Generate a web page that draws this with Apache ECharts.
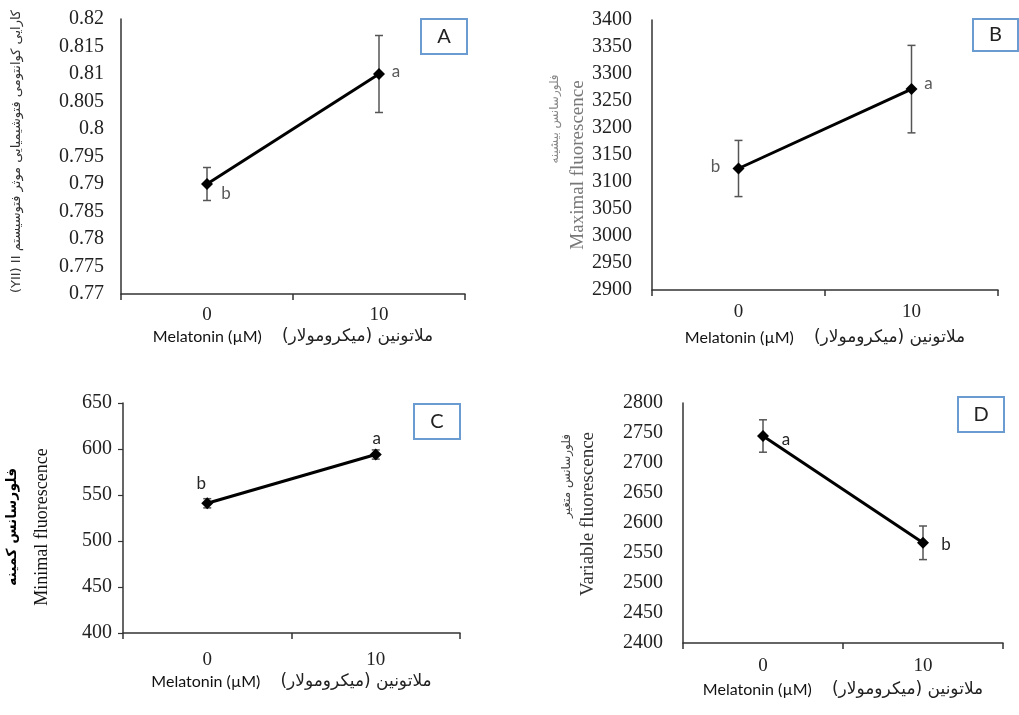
<!DOCTYPE html>
<html>
<head>
<meta charset="utf-8">
<script src="https://cdn.jsdelivr.net/npm/echarts@6/dist/echarts.min.js"></script>
<style>html,body{margin:0;padding:0;background:#fff}#c{width:1019px;height:715px}</style>
</head>
<body>
<div id="c"></div>
<script>
// ---- data ----
const categories = ['0', '10'];
const meanA = [0.790, 0.810];
const errA = [0.003, 0.007];
const meanB = [3125, 3272];
const errB = [52, 81];
const meanC = [541, 594];
const errC = [5, 5];
const meanD = [2745, 2567];
const errD = [27, 28];
const lettersA = ['b', 'a'];
const lettersB = ['b', 'a'];
const lettersC = ['b', 'a'];
const lettersD = ['a', 'b'];
const yRangeA = [0.77, 0.82, 0.005];
const yRangeB = [2900, 3400, 50];
const yRangeC = [400, 650, 50];
const yRangeD = [2400, 2800, 50];
const panelLetters = ['A', 'B', 'C', 'D'];
const xTitleEn = 'Melatonin (µM)';
const xTitleFa = 'ملاتونین (میکرومولار)';
const yTitleFaA = 'کارایی کوانتومی فتوشیمیایی موثر فتوسیستم';
const yTitleLatA = '(YII) II';
const yTitleEnB = 'Maximal fluorescence', yTitleFaB = 'فلورسانس بیشینه';
const yTitleEnC = 'Minimal fluorescence', yTitleFaC = 'فلورسانس کمینه';
const yTitleEnD = 'Variable fluorescence', yTitleFaD = 'فلورسانس متغیر';

const RLI = '\u2067', LRI = '\u2066', PDI = '\u2069';
const serif = '"Liberation Serif", "Times New Roman", serif';
const sans = 'Lato, "Open Sans", sans-serif';
const fa = '"DejaVu Sans", sans-serif';

const grids = [
  {left: 121, top: 19, width: 344, height: 275},
  {left: 652, top: 20, width: 346, height: 270},
  {left: 123, top: 403, width: 337, height: 230},
  {left: 683, top: 403, width: 320, height: 240}
];
const labelMargins = [12, 13, 18, 14];
const xNameGaps = [34, 39, 40, 38];
const yLabelMargins = [17, 20, 11, 20];

const panels = [
  {mean: meanA, err: errA, letters: lettersA, range: yRangeA, letterColor: '#595959',
   offsets: [[19, 10], [17, -2]]},
  {mean: meanB, err: errB, letters: lettersB, range: yRangeB, letterColor: '#595959',
   offsets: [[-23, -2], [17, -6]]},
  {mean: meanC, err: errC, letters: lettersC, range: yRangeC, letterColor: '#262626',
   offsets: [[-6, -20], [1, -16]]},
  {mean: meanD, err: errD, letters: lettersD, range: yRangeD, letterColor: '#262626',
   offsets: [[23, 4], [23, 2]]}
];

const yNames = [
  {name: RLI + yTitleFaA + ' ' + LRI + yTitleLatA + PDI + PDI, gap: 98,
   style: {fontFamily: fa, fontSize: 13, color: '#333', padding: [0, 0, 0, 10]}},
  {name: yTitleEnB, gap: 64, style: {fontFamily: serif, fontSize: 19, color: '#777', padding: [0, 20, 0, 0]}},
  {name: yTitleEnC, gap: 72, style: {fontFamily: serif, fontSize: 18, color: '#111', padding: [0, 18, 0, 0]}},
  {name: yTitleEnD, gap: 85, style: {fontFamily: serif, fontSize: 19, color: '#333', padding: [0, 0, 0, 18]}}
];

const axisLine = {show: true, lineStyle: {color: '#333', width: 1.5}};

const xAxes = grids.map((g, i) => ({
  type: 'category', gridIndex: i, data: categories, boundaryGap: true,
  axisLine: axisLine,
  axisTick: {show: true, length: 6, lineStyle: {color: '#333', width: 1.5}},
  axisLabel: {fontFamily: serif, fontSize: 19, color: '#222', margin: labelMargins[i]},
  name: '{en|' + xTitleEn + '}{sp|}{fa|' + RLI + xTitleFa + PDI + '}',
  nameLocation: 'middle', nameGap: xNameGaps[i],
  nameTextStyle: {
    rich: {
      en: {fontFamily: sans, fontSize: 16, color: '#111'},
      sp: {width: 20},
      fa: {fontFamily: fa, fontSize: 17, color: '#222'}
    }
  }
}));

const yAxes = panels.map((p, i) => ({
  type: 'value', gridIndex: i,
  min: p.range[0], max: p.range[1], interval: p.range[2],
  axisLine: axisLine,
  axisTick: {show: i === 2, inside: false, length: 5, lineStyle: {color: '#333', width: 1.2}},
  splitLine: {show: false},
  axisLabel: {fontFamily: serif, fontSize: 20, color: '#222', margin: yLabelMargins[i],
    formatter: v => String(parseFloat(Number(v).toFixed(4)))},
  name: yNames[i].name, nameLocation: 'middle', nameGap: yNames[i].gap, nameRotate: 90,
  nameTextStyle: yNames[i].style
}));

const series = [];
panels.forEach((p, i) => {
  series.push({
    type: 'custom', xAxisIndex: i, yAxisIndex: i, z: 1,
    data: p.mean.map((m, k) => [k, m, p.err[k]]),
    renderItem: function (params, api) {
      const x = api.value(0), m = api.value(1), e = api.value(2);
      const t = api.coord([x, m + e]);
      const b = api.coord([x, m - e]);
      const hw = 4;
      const st = {stroke: '#555', lineWidth: 1.5};
      return {type: 'group', children: [
        {type: 'line', shape: {x1: t[0], y1: t[1], x2: b[0], y2: b[1]}, style: st},
        {type: 'line', shape: {x1: t[0] - hw, y1: t[1], x2: t[0] + hw, y2: t[1]}, style: st},
        {type: 'line', shape: {x1: b[0] - hw, y1: b[1], x2: b[0] + hw, y2: b[1]}, style: st}
      ]};
    }
  });
  series.push({
    type: 'line', xAxisIndex: i, yAxisIndex: i, z: 3,
    symbol: 'diamond', symbolSize: 12,
    lineStyle: {color: '#000', width: 3},
    itemStyle: {color: '#000'},
    data: p.mean.map((m, k) => ({
      value: m,
      label: {show: true, position: 'inside', offset: p.offsets[k],
        formatter: p.letters[k], fontFamily: sans, fontSize: 17, color: p.letterColor}
    }))
  });
});

const boxes = [
  {x: 421, y: 19, w: 46, h: 35},
  {x: 973, y: 19, w: 45, h: 32},
  {x: 414, y: 404, w: 46, h: 35},
  {x: 958, y: 397, w: 46, h: 35}
];
const graphic = [];
boxes.forEach((b, i) => {
  graphic.push({type: 'rect', shape: {x: b.x, y: b.y, width: b.w, height: b.h},
    style: {fill: '#fff', stroke: '#6a9bd1', lineWidth: 2}, z: 10});
  graphic.push({type: 'text', x: b.x + b.w / 2, y: b.y + b.h / 2, z: 11,
    style: {text: panelLetters[i], font: '20px ' + sans, fill: '#222', align: 'center', verticalAlign: 'middle'}});
});
const faTitles = [
  {text: yTitleFaB, x: 555, y: 119, font: '12px ' + fa, fill: '#888'},
  {text: yTitleFaC, x: 12, y: 527, font: 'bold 14px ' + fa, fill: '#000'},
  {text: yTitleFaD, x: 567, y: 476, font: '12px ' + fa, fill: '#444'}
];
faTitles.forEach(t => {
  graphic.push({type: 'text', x: t.x, y: t.y, rotation: Math.PI / 2, z: 11,
    style: {text: RLI + t.text + PDI, font: t.font, fill: t.fill, align: 'center', verticalAlign: 'middle'}});
});

const chart = echarts.init(document.getElementById('c'), null, {renderer: 'canvas'});
chart.setOption({
  animation: false,
  backgroundColor: '#fff',
  grid: grids,
  xAxis: xAxes,
  yAxis: yAxes,
  series: series,
  graphic: graphic
});
</script>
</body>
</html>
